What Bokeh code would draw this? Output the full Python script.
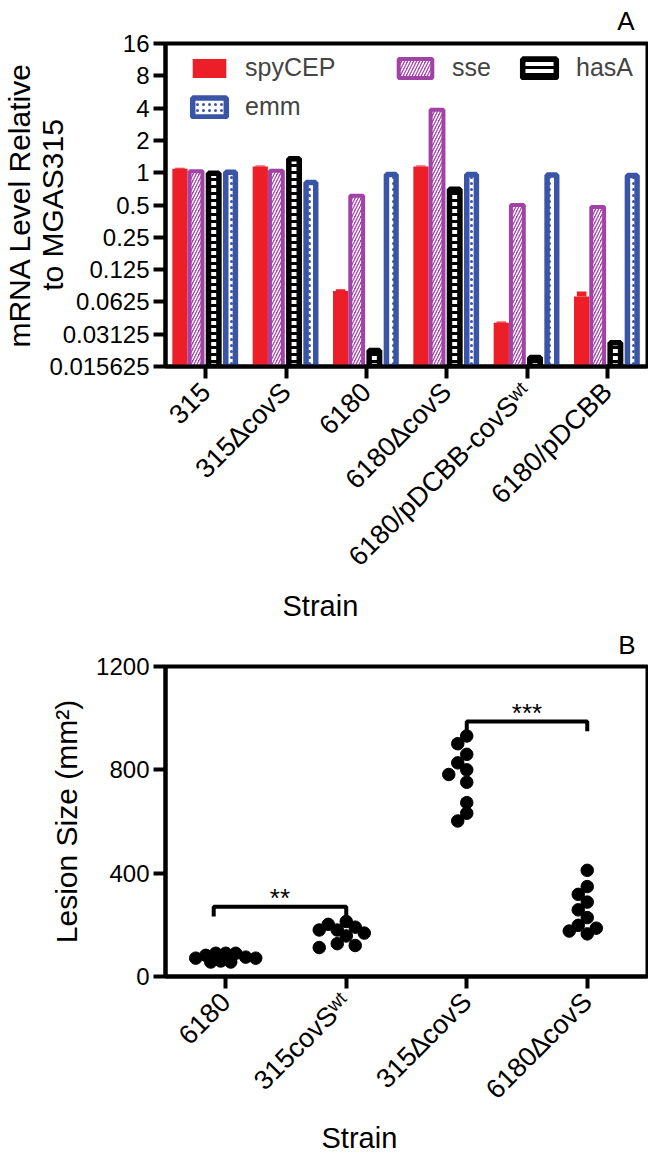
import math
from bokeh.plotting import figure
from bokeh.models import (ColumnDataSource, FixedTicker, Legend, LegendItem,
                          Range1d, Title)
from bokeh.layouts import column
from bokeh.transform import dodge
from bokeh.embed import file_html
from bokeh.resources import INLINE

# ---------------- data: panel A ----------------
strains_a = ["315", "315\u2206covS", "6180", "6180\u2206covS",
             "6180/pDCBB-covS\u02b7\u1d57", "6180/pDCBB"]
spycep = [1.09, 1.14, 0.079, 1.14, 0.040, 0.070]
spycep_err = [0.02, 0.03, 0.003, 0.03, 0.001, 0.008]
sse = [1.03, 1.04, 0.61, 3.86, 0.50, 0.48]
hasa = [0.99, 1.35, 0.022, 0.70, 0.019, 0.026]
emm = [1.01, 0.81, 0.96, 0.96, 0.95, 0.94]
ya_ticks = [0.015625, 0.03125, 0.0625, 0.125, 0.25, 0.5, 1, 2, 4, 8, 16]
ya_labels = ["0.015625", "0.03125", "0.0625", "0.125", "0.25", "0.5",
             "1", "2", "4", "8", "16"]

# ---------------- data: panel B ----------------
strains_b = ["6180", "315covS\u02b7\u1d57", "315\u2206covS", "6180\u2206covS"]
lesion_6180 = [90, 90, 90, 82, 75, 71, 71, 60, 56, 56]
lesion_315wt = [213, 202, 191, 180, 180, 168, 157, 127, 120, 112]
lesion_315d = [931, 901, 860, 827, 800, 782, 752, 673, 632, 602]
lesion_6180d = [411, 348, 318, 288, 258, 228, 198, 187, 176, 165]
yb_ticks = [0, 400, 800, 1200]
sig_from = [0, 2]
sig_to = [1, 3]
sig_level = [270, 987]
sig_text = ["**", "***"]

FONT = "Liberation Sans"
RED = "#EC1F28"
PURPLE = "#A142A6"
BLUE = "#3A55A6"


def style_axes(p):
    p.outline_line_color = "black"
    p.outline_line_width = 4
    p.xgrid.visible = False
    p.ygrid.visible = False
    for ax in (p.xaxis[0], p.yaxis[0]):
        ax.axis_line_width = 4
        ax.major_tick_line_width = 4
        ax.major_tick_in = 0
        ax.major_tick_out = 12
        ax.minor_tick_line_color = None
        ax.major_label_text_font = FONT
        ax.major_label_text_color = "black"
        ax.axis_label_text_font = FONT
        ax.axis_label_text_font_style = "normal"
        ax.axis_label_text_font_size = "30px"
        ax.axis_label_text_color = "black"
    p.yaxis[0].major_label_text_font_size = "24px"
    p.yaxis[0].major_label_standoff = 4
    p.xaxis[0].major_label_text_font_size = "27px"
    p.xaxis[0].major_label_orientation = math.pi / 4
    p.xaxis[0].major_label_standoff = 9


def add_title(p, text, side, align, offset, standoff, size, valign="bottom"):
    p.add_layout(Title(text=text, align=align, offset=offset, standoff=standoff,
                       vertical_align=valign,
                       text_font=FONT, text_font_size=size, text_font_style="normal",
                       text_color="black"), side)


# ================= Panel A =================
A_H = 625
A_LEFT, A_TOP, A_BOTTOM = 162, 43, 366
pA = figure(width=648, height=A_H, y_axis_type="log",
            x_range=Range1d(-0.5, len(strains_a) - 0.5),
            y_range=Range1d(ya_ticks[0], ya_ticks[-1]),
            output_backend="svg", toolbar_location=None,
            min_border_left=A_LEFT, min_border_right=1,
            min_border_top=A_TOP, min_border_bottom=A_H - A_BOTTOM)
style_axes(pA)
base = ya_ticks[0]
srcA = ColumnDataSource(dict(idx=list(range(len(strains_a))), spycep=spycep,
                             top_err=[v + e for v, e in zip(spycep, spycep_err)],
                             sse=sse, hasa=hasa, emm=emm))
r_red = pA.vbar(x=dodge("idx", -0.32, range=pA.x_range), top="spycep", bottom=base,
                width=0.19, source=srcA, fill_color=RED, line_color=None)
pA.vbar(x=dodge("idx", -0.32, range=pA.x_range), top="top_err", bottom="spycep",
        width=0.12, source=srcA, fill_color=RED, line_color=None)
r_pur = pA.vbar(x=dodge("idx", -0.12, range=pA.x_range), top="sse", bottom=base,
                width=0.16, source=srcA, fill_color=PURPLE, line_color=PURPLE,
                line_width=4, hatch_pattern="/", hatch_color="white",
                hatch_scale=6, hatch_weight=1.5)
r_blk = pA.vbar(x=dodge("idx", 0.10, range=pA.x_range), top="hasa", bottom=base,
                width=0.13, source=srcA, fill_color="white", line_color="black",
                line_width=5.5, hatch_pattern="-", hatch_color="black",
                hatch_scale=7, hatch_weight=3)
r_blu = pA.vbar(x=dodge("idx", 0.31, range=pA.x_range), top="emm", bottom=base,
                width=0.12, source=srcA, fill_color="white", line_color=BLUE,
                line_width=5.5, hatch_pattern=".", hatch_color=BLUE,
                hatch_scale=6, hatch_weight=1)

pA.xaxis[0].ticker = FixedTicker(ticks=list(range(len(strains_a))))
pA.xaxis[0].major_label_overrides = {i: s for i, s in enumerate(strains_a)}
pA.yaxis[0].ticker = FixedTicker(ticks=ya_ticks)
pA.yaxis[0].major_label_overrides = {t: s for t, s in zip(ya_ticks, ya_labels)}
pA.yaxis[0].axis_label = "mRNA Level Relative\nto MGAS315"
pA.yaxis[0].axis_label_text_line_height = 1.0
pA.yaxis[0].axis_label_standoff = -23


def add_leg(p, r, label, loc, standoff):
    lg = Legend(items=[LegendItem(label=label, renderers=[r])], location=loc,
                orientation="horizontal", glyph_width=42, glyph_height=24,
                label_height=24, label_standoff=standoff, padding=0, margin=0,
                spacing=0, border_line_color=None, background_fill_alpha=0,
                label_text_font=FONT, label_text_font_size="25px")
    p.add_layout(lg)


add_leg(pA, r_red, "spyCEP", (185 - A_LEFT, A_BOTTOM - 82), 15)
add_leg(pA, r_pur, "sse", (391 - A_LEFT, A_BOTTOM - 82), 16)
add_leg(pA, r_blk, "hasA", (515 - A_LEFT, A_BOTTOM - 82), 16)
add_leg(pA, r_blu, "emm", (185 - A_LEFT, A_BOTTOM - 121), 15)

add_title(pA, "Strain", "below", "left", 279 - A_LEFT, 4, "29px")
add_title(pA, "A", "above", "right", 13, 11, "26px", "top")

# ================= Panel B =================
B_FIG_TOP = A_H
B_H = 1154 - A_H
B_LEFT, B_TOP, B_BOTTOM = 165, 666, 987
pB = figure(width=648, height=B_H,
            x_range=Range1d(-0.5, len(strains_b) - 0.5),
            y_range=Range1d(yb_ticks[0], yb_ticks[-1]),
            output_backend="svg", toolbar_location=None,
            min_border_left=B_LEFT, min_border_right=1,
            min_border_top=B_TOP - B_FIG_TOP,
            min_border_bottom=B_FIG_TOP + B_H - B_BOTTOM)
style_axes(pB)
pB.xaxis[0].ticker = FixedTicker(ticks=list(range(len(strains_b))))
pB.xaxis[0].major_label_overrides = {i: s for i, s in enumerate(strains_b)}
pB.yaxis[0].ticker = FixedTicker(ticks=yb_ticks)
pB.yaxis[0].axis_label = "Lesion Size (mm\u00b2)"
pB.yaxis[0].axis_label_standoff = 10

px_x = (647 - B_LEFT) / len(strains_b)
px_y = (B_BOTTOM - B_TOP) / (yb_ticks[-1] - yb_ticks[0])


def swarm(vals, center, diam=10.5, step=9.0, max_half=30.0):
    placed = []
    offs = [0.0] * len(vals)
    order = sorted(range(len(vals)), key=lambda i: -vals[i])
    for i in order:
        yp = vals[i] * px_y
        k = 0
        found = None
        while found is None:
            cands = [0.0] if k == 0 else [-k * step, k * step]
            for c in cands:
                if all((c - a) ** 2 + (yp - b) ** 2 >= diam ** 2 for a, b in placed):
                    found = c
                    break
            k += 1
        placed.append((found, yp))
        offs[i] = found
    widest = max(abs(o) for o in offs)
    scale = max_half / widest if widest > max_half else 1.0
    return [center + o * scale / px_x for o in offs]


groups = [lesion_6180, lesion_315wt, lesion_315d, lesion_6180d]
bx, by = [], []
for gi, vals in enumerate(groups):
    bx += swarm(vals, gi)
    by += vals
pB.scatter(x=bx, y=by, size=12.5, fill_color="black", line_color="black")

# significance brackets
leg = 10 / px_y
for a, b, lvl, txt in zip(sig_from, sig_to, sig_level, sig_text):
    x0 = a - (0.1 if a == 0 else 0.0)
    pB.line(x=[x0, x0, b, b], y=[lvl - leg, lvl, lvl, lvl - leg],
            line_color="black", line_width=4)
    pB.text(x=[(x0 + b) / 2], y=[lvl + 9 / px_y], text=[txt], text_font_size="26px",
            text_align="center", text_baseline="middle", text_color="black")

add_title(pB, "Strain", "below", "left", 321 - B_LEFT, 2, "29px")
add_title(pB, "B", "above", "right", 12, 9, "26px", "top")

layout = column(pA, pB, spacing=0)
open("out.html", "w").write(file_html(layout, INLINE))
